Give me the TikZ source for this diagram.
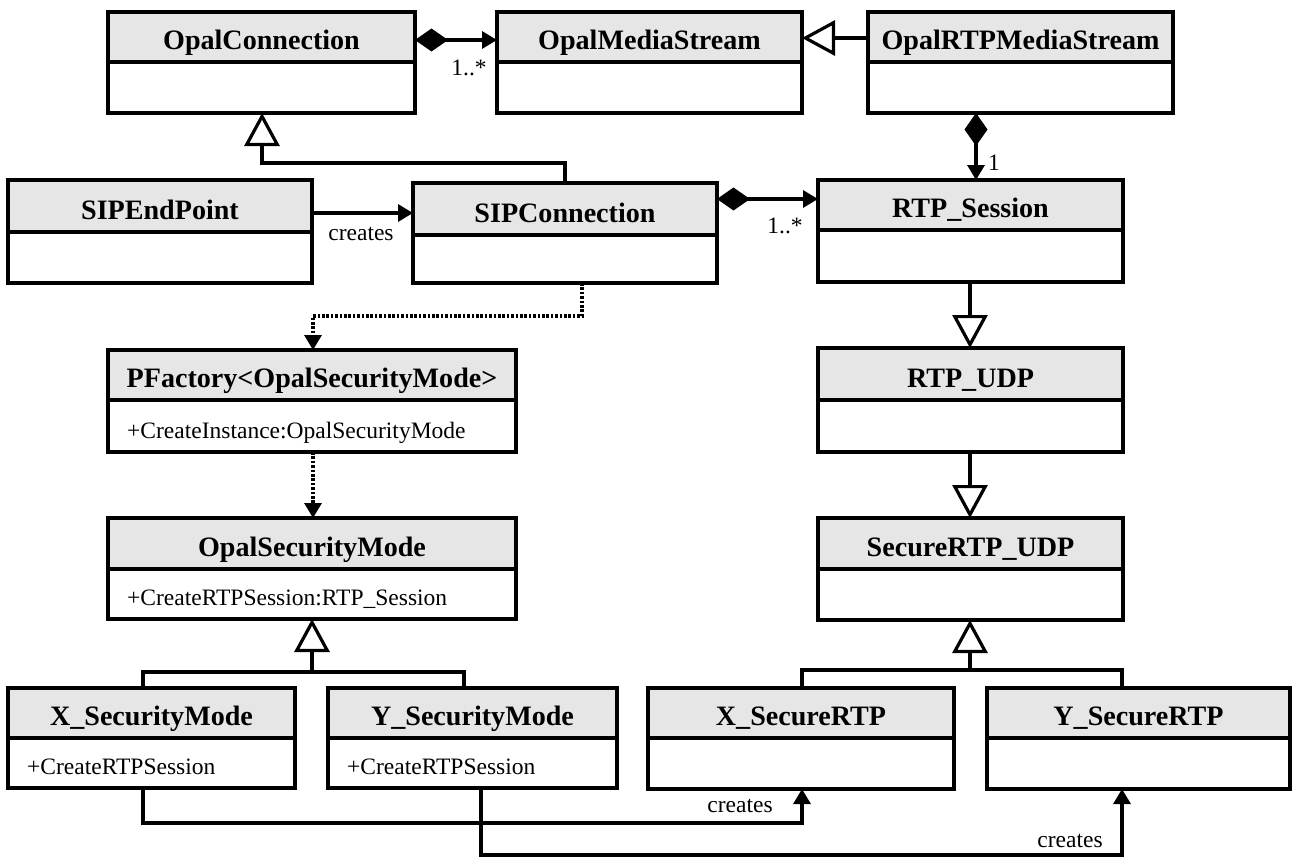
\documentclass[tikz,border=0pt]{standalone}
\usepackage{fontspec}
\setmainfont{Liberation Serif}
\usetikzlibrary{arrows.meta,calc}
\definecolor{hdrgray}{HTML}{E6E6E6}
\tikzset{
  lw/.style={line width=3.2bp},
  classbox/.style={draw, line width=3.2bp, inner sep=0pt, outer sep=0pt, anchor=north west},
  classtitle/.style={font=\fontsize{28.2}{30}\selectfont\bfseries, inner sep=0pt, anchor=base},
  classattr/.style={font=\fontsize{23.6}{26}\selectfont, inner sep=0pt, anchor=base west},
  lbl/.style={font=\fontsize{23.6}{26}\selectfont, inner sep=0pt},
  gen/.style={lw, -{Triangle[length=33bp, width=35bp, fill=white]}},
  comp/.style={lw, {Diamond[length=33bp, width=23bp]}-{Triangle[length=15bp, width=17bp]}},
  assoc/.style={lw, -{Triangle[length=15bp, width=17bp]}},
  dep/.style={lw, dash pattern=on 2.6bp off 1.8bp, -{Triangle[length=15bp, width=17bp]}}
}
% name, x1, ytop, x2, yhdr, ybot, title, attr
\newcommand\umlclass[8]{%
  \fill[hdrgray] (#2,#3) rectangle (#4,#5);
  \draw[lw] (#2,#5) -- (#4,#5);
  \node[classbox, minimum width={(#4-#2)*1bp}, minimum height={(#6-#3)*1bp}] (#1) at (#2,#3) {};
  \node[classtitle] (#1-t) at ({(#2+#4)/2},{#5-13}) {#7};
  \if\relax\detokenize{#8}\relax\else
  \node[classattr] (#1-a) at ({#2+19},{#6-14}) {#8};
  \fi
}
\begin{document}
\begin{tikzpicture}[x=1bp,y=-1bp]
\useasboundingbox (0,0) rectangle (1292,857);
\fill[white] (0,0) rectangle (1292,857);

\umlclass{opc}{108}{12}{415}{62}{113}{OpalConnection}{}
\umlclass{oms}{497}{12}{802}{62}{113}{OpalMediaStream}{}
\umlclass{ortp}{868}{12}{1173}{62}{113}{OpalRTPMediaStream}{}
\umlclass{sipe}{8}{180}{312}{232}{283}{SIPEndPoint}{}
\umlclass{sipc}{413}{183}{717}{235}{283}{SIPConnection}{}
\umlclass{rtps}{818}{180}{1123}{230}{282}{RTP\_Session}{}
\umlclass{pfac}{108}{350}{516}{400}{452}{PFactory<OpalSecurityMode>}{+CreateInstance:OpalSecurityMode}
\umlclass{osm}{108}{518}{516}{569}{619}{OpalSecurityMode}{+CreateRTPSession:RTP\_Session}
\umlclass{rudp}{818}{348}{1123}{400}{452}{RTP\_UDP}{}
\umlclass{srudp}{818}{518}{1123}{569}{620}{SecureRTP\_UDP}{}
\umlclass{xsm}{8}{688}{295}{738}{788}{X\_SecurityMode}{+CreateRTPSession}
\umlclass{ysm}{328}{688}{617}{738}{788}{Y\_SecurityMode}{+CreateRTPSession}
\umlclass{xsr}{648}{688}{954}{738}{789}{X\_SecureRTP}{}
\umlclass{ysr}{987}{688}{1290}{738}{789}{Y\_SecureRTP}{}

% bend points
\coordinate (b1) at (262,163);
\coordinate (b2) at (313,316);
\coordinate (g1) at (312,672);
\coordinate (g1l) at (143,672);
\coordinate (g2) at (970,670);
\coordinate (g2l) at (802,670);
\coordinate (k1) at (802,823);
\coordinate (k2) at (1122,855);

% OpalConnection -> OpalMediaStream (composition)
\draw[comp] (opc.east |- 0,40) -- (oms.west |- 0,40);
\node[lbl] (m1) at (469,68) {1..*};
% OpalRTPMediaStream -> OpalMediaStream (generalization)
\draw[gen] (ortp.west |- 0,38) -- (oms.east |- 0,38);
% OpalRTPMediaStream -> RTP_Session (composition)
\draw[comp] (976,0 |- ortp.south) -- (976,0 |- rtps.north);
\node[lbl, anchor=west] (m2) at (988,163) {1};
% SIPConnection -> OpalConnection (generalization)
\draw[gen] (565,0 |- sipc.north) |- (b1) -- (b1 |- opc.south);
% SIPEndPoint -> SIPConnection
\draw[assoc] (sipe.east |- 0,213) -- (sipc.west |- 0,213);
\node[lbl] (c1) at (361,234) {creates};
% SIPConnection -> RTP_Session (composition)
\draw[comp] (sipc.east |- 0,199) -- (rtps.west |- 0,199);
\node[lbl] (m3) at (785,226) {1..*};
% dependencies
\draw[dep] (582,0 |- sipc.south) |- (b2) -- (b2 |- pfac.north);
\draw[dep] (313,0 |- pfac.south) -- (313,0 |- osm.north);
% security mode generalization
\draw[lw] (g1l |- xsm.north) |- (464,672) -- (464,0 |- ysm.north);
\draw[gen] (g1) -- (g1 |- osm.south);
% RTP chain
\draw[gen] (970,0 |- rtps.south) -- (970,0 |- rudp.north);
\draw[gen] (970,0 |- rudp.south) -- (970,0 |- srudp.north);
\draw[lw] (g2l |- xsr.north) |- (1122,670) -- (1122,0 |- ysr.north);
\draw[gen] (g2) -- (g2 |- srudp.south);
% creates
\draw[assoc] (143,0 |- xsm.south) |- (k1) -- (k1 |- xsr.south);
\node[lbl] (c2) at (740,806) {creates};
\draw[assoc] (481,0 |- ysm.south) |- (k2) -- (k2 |- ysr.south);
\node[lbl] (c3) at (1070,841) {creates};
\end{tikzpicture}
\end{document}
